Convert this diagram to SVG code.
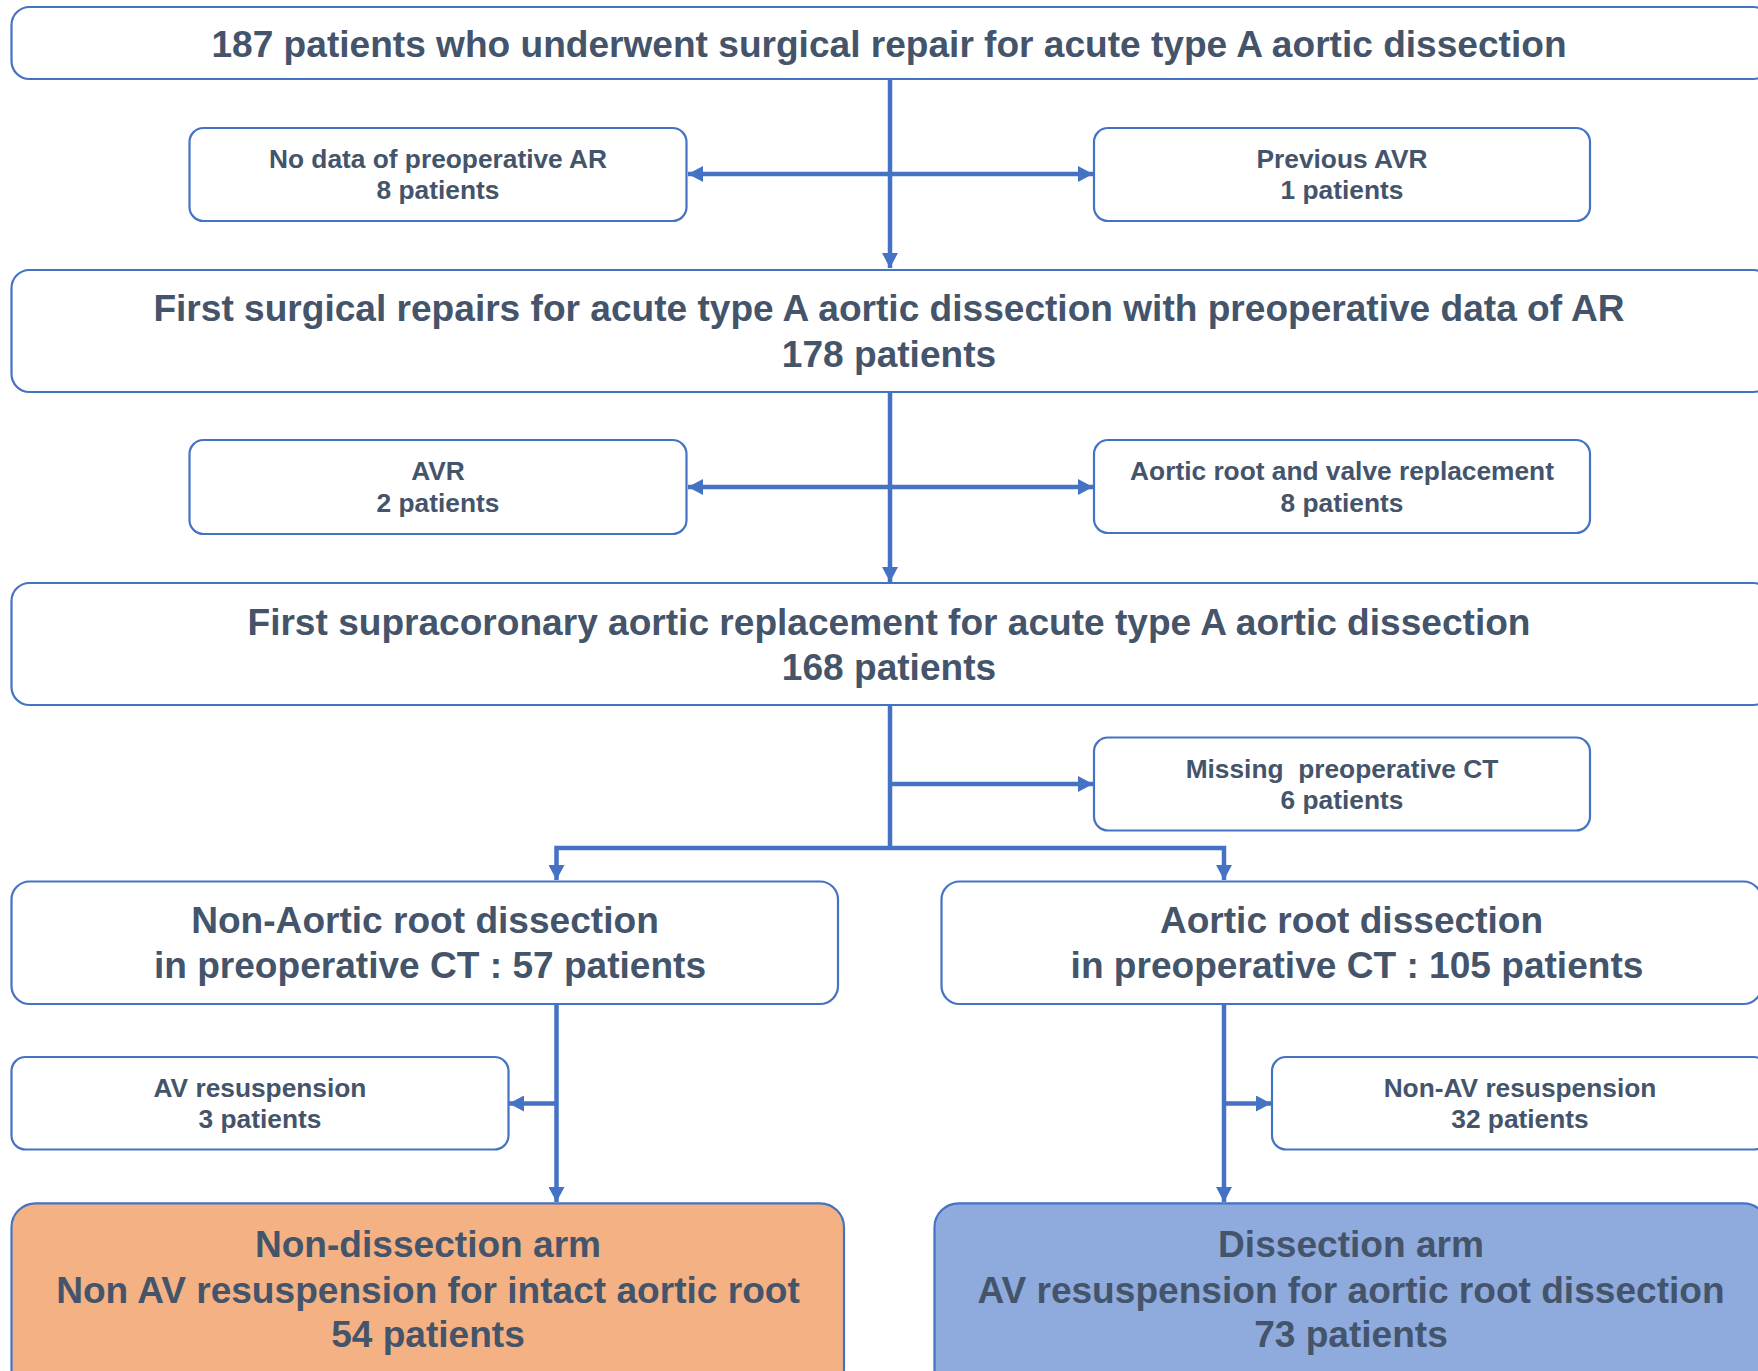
<svg xmlns="http://www.w3.org/2000/svg" width="1758" height="1371" viewBox="0 0 1758 1371">
<style>
.box{fill:#ffffff;stroke:#4472C4;stroke-width:2.2}
.orange{fill:#F4B183;stroke:#4472C4;stroke-width:2.2}
.blue{fill:#8FAADC;stroke:#4472C4;stroke-width:2.2}
.big{font-family:"Liberation Sans",Arial,sans-serif;font-weight:bold;font-size:37.1px;fill:#44546A;text-anchor:middle}
.small{font-family:"Liberation Sans",Arial,sans-serif;font-weight:bold;font-size:26.3px;fill:#44546A;text-anchor:middle}
.conn{fill:none;stroke:#4472C4;stroke-width:4.5;stroke-linejoin:miter}
</style>
<defs>
<marker id="arr" markerUnits="userSpaceOnUse" markerWidth="16" markerHeight="16" refX="15" refY="8" orient="auto" viewBox="0 0 16 16">
<path d="M0,0 L15,8 L0,16 z" fill="#4472C4"/>
</marker>
</defs>
<rect width="1758" height="1371" fill="#ffffff"/>

<g id="connectors">
<path class="conn" d="M890,79 V268" marker-end="url(#arr)"/>
<path class="conn" d="M890,174 H688" marker-end="url(#arr)"/>
<path class="conn" d="M890,174 H1093" marker-end="url(#arr)"/>
<path class="conn" d="M890,392 V582" marker-end="url(#arr)"/>
<path class="conn" d="M890,487 H688" marker-end="url(#arr)"/>
<path class="conn" d="M890,487 H1093" marker-end="url(#arr)"/>
<path class="conn" d="M890,705 V850"/>
<path class="conn" d="M890,784 H1093" marker-end="url(#arr)"/>
<path class="conn" d="M890,848 H556.5 V880" marker-end="url(#arr)"/>
<path class="conn" d="M890,848 H1224 V880" marker-end="url(#arr)"/>
<path class="conn" d="M556.5,1004 V1202" marker-end="url(#arr)"/>
<path class="conn" d="M556.5,1103.5 H509" marker-end="url(#arr)"/>
<path class="conn" d="M1224,1004 V1202" marker-end="url(#arr)"/>
<path class="conn" d="M1224,1103.5 H1271" marker-end="url(#arr)"/>
</g>

<g id="n-total">
<rect class="box" x="11.5" y="7" width="1760" height="72" rx="18"/>
<text class="big" x="889" y="56.5">187 patients who underwent surgical repair for acute type A aortic dissection</text>
</g>

<g id="n-nodata">
<rect class="box" x="189.5" y="128" width="497" height="93" rx="14"/>
<text class="small" x="438" y="167.5">No data of preoperative AR</text>
<text class="small" x="438" y="199">8 patients</text>
</g>

<g id="n-prevavr">
<rect class="box" x="1094" y="128" width="496" height="93" rx="14"/>
<text class="small" x="1342" y="167.5">Previous AVR</text>
<text class="small" x="1342" y="199">1 patients</text>
</g>

<g id="n-first">
<rect class="box" x="11.5" y="270" width="1760" height="122" rx="18"/>
<text class="big" x="889" y="321">First surgical repairs for acute type A aortic dissection with preoperative data of AR</text>
<text class="big" x="889" y="366.5">178 patients</text>
</g>

<g id="n-avr">
<rect class="box" x="189.5" y="440" width="497" height="94" rx="14"/>
<text class="small" x="438" y="480">AVR</text>
<text class="small" x="438" y="511.5">2 patients</text>
</g>

<g id="n-rootvalve">
<rect class="box" x="1094" y="440" width="496" height="93" rx="14"/>
<text class="small" x="1342" y="480">Aortic root and valve replacement</text>
<text class="small" x="1342" y="511.5">8 patients</text>
</g>

<g id="n-supra">
<rect class="box" x="11.5" y="583" width="1760" height="122" rx="18"/>
<text class="big" x="889" y="635">First supracoronary aortic replacement for acute type A aortic dissection</text>
<text class="big" x="889" y="680">168 patients</text>
</g>

<g id="n-missing">
<rect class="box" x="1094" y="737.5" width="496" height="93" rx="14"/>
<text class="small" x="1342" y="777.5" xml:space="preserve">Missing  preoperative CT</text>
<text class="small" x="1342" y="809">6 patients</text>
</g>

<g id="n-nonroot">
<rect class="box" x="11.5" y="881.5" width="826.5" height="122.5" rx="18"/>
<text class="big" x="425" y="933.3">Non-Aortic root dissection</text>
<text class="big" x="430" y="978.3">in preoperative CT : 57 patients</text>
</g>

<g id="n-root">
<rect class="box" x="941.5" y="881.5" width="820" height="122.5" rx="18"/>
<text class="big" x="1351.5" y="933.3">Aortic root dissection</text>
<text class="big" x="1357" y="978.3">in preoperative CT : 105 patients</text>
</g>

<g id="n-avresusp">
<rect class="box" x="11.5" y="1057" width="497" height="92.5" rx="14"/>
<text class="small" x="260" y="1096.7">AV resuspension</text>
<text class="small" x="260" y="1128">3 patients</text>
</g>

<g id="n-nonavresusp">
<rect class="box" x="1272" y="1057" width="496" height="92.5" rx="14"/>
<text class="small" x="1520" y="1096.7">Non-AV resuspension</text>
<text class="small" x="1520" y="1128">32 patients</text>
</g>

<g id="n-nondissarm">
<rect class="orange" x="11.5" y="1203.3" width="832.5" height="190" rx="24"/>
<text class="big" x="428" y="1257.3">Non-dissection arm</text>
<text class="big" x="428" y="1302.7">Non AV resuspension for intact aortic root</text>
<text class="big" x="428" y="1346.7">54 patients</text>
</g>

<g id="n-dissarm">
<rect class="blue" x="934.5" y="1203.3" width="833" height="190" rx="24"/>
<text class="big" x="1351" y="1257.3">Dissection arm</text>
<text class="big" x="1351" y="1302.7">AV resuspension for aortic root dissection</text>
<text class="big" x="1351" y="1346.7">73 patients</text>
</g>
</svg>
